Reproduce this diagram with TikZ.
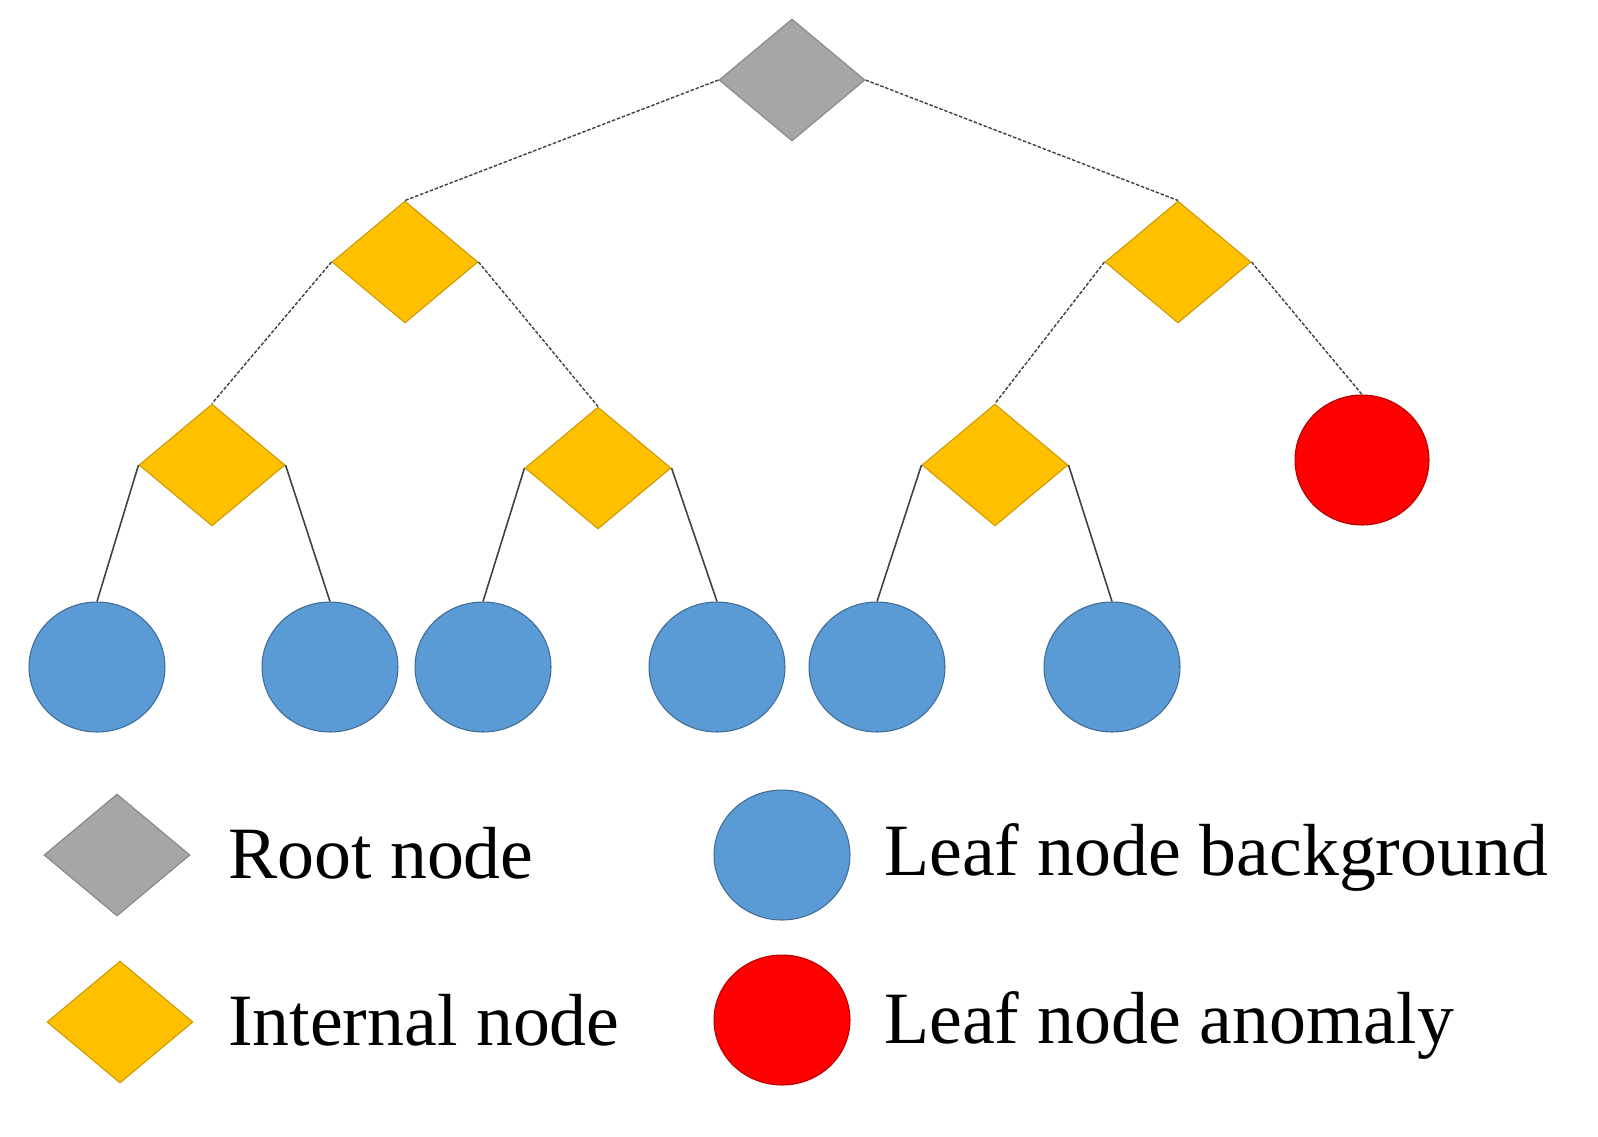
\documentclass[tikz,border=0pt]{standalone}
\usepackage{fontspec}
\setmainfont{Liberation Serif}
\usetikzlibrary{shapes.geometric}
\definecolor{rootgray}{HTML}{A6A6A6}
\definecolor{intyellow}{HTML}{FFC000}
\definecolor{leafblue}{HTML}{5B9BD5}
\definecolor{leafred}{HTML}{FF0000}
\begin{document}
\begin{tikzpicture}[x=0.02cm,y=-0.02cm,
  dia/.style={diamond, inner sep=0pt, minimum width=2.92cm, minimum height=2.44cm, draw=#1!80!black, fill=#1, line width=0.6pt},
  leaf/.style={ellipse, inner sep=0pt, minimum width=2.72cm, minimum height=2.6cm, draw=#1!70!black, fill=#1, line width=0.6pt},
  dashedge/.style={draw=black!75, densely dashed, dash pattern=on 2pt off 1pt, line width=0.8pt},
  edge/.style={draw=black!75, line width=0.9pt},
  lab/.style={anchor=base west, font=\fontsize{42}{48}\selectfont}]
  \useasboundingbox (0,0) rectangle (1598,1136);

  % Tree nodes
  \node[dia=rootgray] (r) at (792,80) {};
  \node[dia=intyellow] (a) at (405,262) {};
  \node[dia=intyellow] (b) at (1178,262) {};
  \node[dia=intyellow] (a1) at (212,465) {};
  \node[dia=intyellow] (a2) at (598,468) {};
  \node[dia=intyellow] (b1) at (995,465) {};
  \node[leaf=leafred, minimum width=2.68cm] (b2) at (1362,460) {};
  \node[leaf=leafblue] (l1) at (97,667) {};
  \node[leaf=leafblue] (l2) at (330,667) {};
  \node[leaf=leafblue] (l3) at (483,667) {};
  \node[leaf=leafblue] (l4) at (717,667) {};
  \node[leaf=leafblue] (l5) at (877,667) {};
  \node[leaf=leafblue] (l6) at (1112,667) {};

  % Connectors
  \draw[dashedge] (r.west) -- (a.north);
  \draw[dashedge] (r.east) -- (b.north);
  \draw[dashedge] (a.west) -- (a1.north);
  \draw[dashedge] (a.east) -- (a2.north);
  \draw[dashedge] (b.west) -- (b1.north);
  \draw[dashedge] (b.east) -- (b2.north);
  \draw[edge] (a1.west) -- (l1.north);
  \draw[edge] (a1.east) -- (l2.north);
  \draw[edge] (a2.west) -- (l3.north);
  \draw[edge] (a2.east) -- (l4.north);
  \draw[edge] (b1.west) -- (l5.north);
  \draw[edge] (b1.east) -- (l6.north);

  % Legend
  \node[dia=rootgray] (k1) at (117,855) {};
  \node[lab] (t1) at (222,878) {Root node};
  \node[dia=intyellow] (k2) at (120,1022) {};
  \node[lab] (t2) at (222,1045) {Internal node};
  \node[leaf=leafblue] (k3) at (782,855) {};
  \node[lab] (t3) at (878,875) {Leaf node background};
  \node[leaf=leafred] (k4) at (782,1020) {};
  \node[lab] (t4) at (878,1043) {Leaf node anomaly};
\end{tikzpicture}
\end{document}
